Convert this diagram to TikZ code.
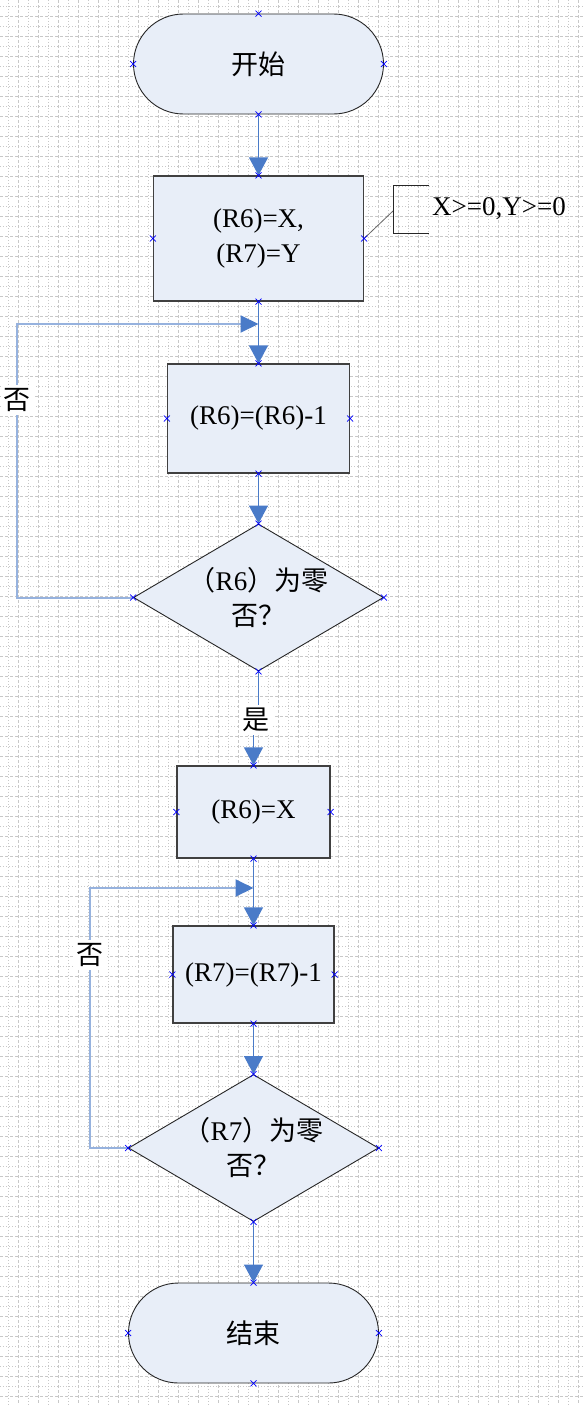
\documentclass[tikz,border=0pt]{standalone}
\usepackage{fontspec}
\setmainfont{Liberation Serif}
\newfontfamily\cjk{Noto Sans CJK SC}
\usetikzlibrary{arrows.meta,shapes.geometric}
\definecolor{boxfill}{RGB}{232,238,248}
\definecolor{flowblue}{RGB}{74,123,200}
\definecolor{loopblue}{RGB}{150,178,222}
\definecolor{gridgray}{RGB}{200,200,200}
\tikzset{
  term/.style={draw=black!85,fill=boxfill,line width=0.9pt,rounded corners=50pt,
    minimum width=250pt,minimum height=100pt,inner sep=0pt},
  procbox/.style={draw=black!75,fill=boxfill,line width=1.2pt,inner sep=0pt,align=center},
  decision/.style={diamond,draw=black!85,fill=boxfill,line width=0.9pt,shape aspect=1.7,
    inner sep=0pt,minimum width=250pt,minimum height=147pt,align=center},
  flow/.style={draw=flowblue,line width=1.2pt,-{Triangle[length=18pt,width=19pt]}},
  loopback/.style={draw=loopblue,line width=2pt,-{Triangle[length=18pt,width=17pt,color=flowblue]}},
  lbl/.style={fill=white,inner sep=3pt},
  gridline/.style={draw=gridgray,line width=0.9pt},
  cpt/.pic={\draw[blue,line width=0.7pt] (-3,-3) -- (3,3) (-3,3) -- (3,-3);}
}
\begin{document}
\begin{tikzpicture}[x=1pt,y=-1pt,font=\fontsize{27}{35}\selectfont]
\useasboundingbox (0,0) rectangle (585,1405);

\foreach \x in {8,28,...,578} \draw[gridline,dash pattern=on 1pt off 2pt] (\x,0) -- (\x,1405);
\foreach \x in {18,38,...,578} \draw[gridline,dash pattern=on 3pt off 2pt] (\x,0) -- (\x,1405);
\foreach \y in {6,26,...,1400} \draw[gridline,dash pattern=on 1pt off 2pt] (0,\y) -- (585,\y);
\foreach \y in {16,36,...,1400} \draw[gridline,dash pattern=on 3pt off 2pt] (0,\y) -- (585,\y);

\node[term] (start) at (258.5,64) {\cjk 开始};
\node[procbox,minimum width=210pt,minimum height=125pt] (box1) at (258.5,238.5) {(R6)=X,\\(R7)=Y};
\node[procbox,minimum width=182pt,minimum height=109pt] (box2) at (258.5,418.5) {(R6)=(R6)-1};
\node[decision] (d1) at (258.5,597.5) {{\cjk （}R6{\cjk ）为零}\\{\cjk 否？}};
\node[procbox,minimum width=153pt,minimum height=92pt] (box3) at (253.5,812) {(R6)=X};
\node[procbox,minimum width=161pt,minimum height=97pt] (box4) at (253.5,974.5) {(R7)=(R7)-1};
\node[decision] (d2) at (253.5,1148) {{\cjk （}R7{\cjk ）为零}\\{\cjk 否？}};
\node[term] (stop) at (253.5,1333) {\cjk 结束};

\draw[flow] (start) -- (box1);
\draw[flow] (box1) -- (box2);
\draw[flow] (box2) -- (d1);
\draw[flow] (box3) -- (box4);
\draw[flow] (box4) -- (d2);
\draw[flow] (d2) -- (stop);

\node[lbl] (yes) at (256,720) {\cjk 是};
\draw[draw=flowblue,line width=1.2pt] (d1.south) -- (d1.south |- yes.north);
\draw[flow] (box3.north |- yes.south) -- (box3.north);

\coordinate (loopA) at (17,324);
\draw[loopback] (d1.west) -| (loopA) -- (box2.north |- loopA);
\node[lbl] (no1) at (17,400) {\cjk 否};
\coordinate (loopB) at (90,888);
\draw[loopback] (d2.west) -| (loopB) -- (box4.north |- loopB);
\node[lbl] (no2) at (90,955) {\cjk 否};

\coordinate (brk) at (393,211);
\draw[black!60,line width=0.8pt] (box1.east) -- (brk);
\draw[black!85,line width=0.9pt] (brk) ++(36,-26) -- ++(-36,0) -- ++(0,48) -- ++(36,0);
\node[anchor=west,inner sep=0pt] (cond) at (432,209) {X>=0,Y>=0};

\foreach \n in {start,box1,box2,d1,box3,box4,d2,stop}
  \foreach \a in {north,south,east,west}
    \pic at (\n.\a) {cpt};
\end{tikzpicture}
\end{document}
